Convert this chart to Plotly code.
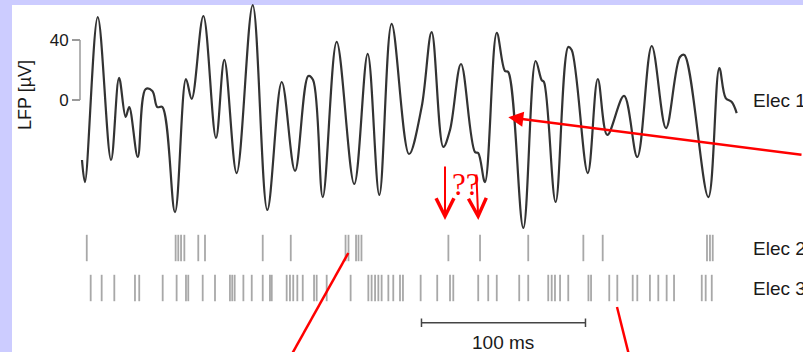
import plotly.graph_objects as go

# ---- Elec 1: local field potential, turning points of the trace ----
lfp_t = [0.0, 1.8, 9.6, 17.7, 22.6, 26.6, 28.8, 34.0, 38.8, 42.9, 45.9, 49.0,
         56.7, 63.4, 66.9, 74.0, 81.7, 86.8, 94.3, 104.1, 113.0, 121.8, 129.9,
         138.0, 140.9, 146.8, 155.3, 166.0, 174.2, 181.3, 188.8, 199.4, 207.1,
         213.2, 220.3, 224.4, 231.1, 239.6, 241.6, 245.7, 252.9, 257.9, 259.9,
         269.1, 276.6, 280.3, 281.7, 288.8, 296.5, 298.6, 308.4, 314.5, 320.3,
         330.5, 338.6, 347.4, 356.1, 364.6, 367.3, 381.9, 388.6, 392.5, 396.2,
         399.2]
lfp_uv = [-40.0, -54.7, 55.3, -40.0, 14.7, -11.3, -4.7, -38.0, 7.3, 6.0, -4.7,
          -4.7, -74.7, 14.0, 0.7, 56.0, -25.3, 26.7, -48.7, 63.3, -73.3, 12.0,
          -47.3, 16.0, 13.3, -64.7, 38.7, -56.0, 30.7, -63.3, 50.7, -36.0, -4.7,
          45.3, -31.3, -20.0, 24.0, -34.7, -35.3, -54.7, 44.7, 19.3, 18.7, -85.3,
          26.0, 13.3, 12.0, -68.0, 35.3, 33.3, -48.7, 14.0, -23.3, 2.7, -38.0,
          36.0, -18.7, 28.7, 30.0, -64.7, 21.3, 1.3, -1.3, -8.7]

# ---- spike times (ms) ----
elec2_spikes = [2.9, 57.1, 58.7, 60.4, 62.4, 70.9, 75.0, 110.2, 127.3, 160.7,
                162.5, 167.1, 168.6, 170.4, 223.4, 242.7, 272.1, 305.7, 317.5,
                381.1, 382.9, 384.6]
elec3_spikes = [5.3, 12.0, 19.7, 32.3, 34.9, 49.2, 57.7, 63.4, 64.8, 73.6, 81.1,
                90.2, 91.6, 93.1, 98.4, 103.5, 110.2, 114.6, 115.7, 124.8, 126.8,
                128.8, 131.3, 134.6, 141.5, 143.1, 149.2, 163.8, 174.6, 176.6,
                178.7, 180.7, 182.7, 186.8, 189.8, 193.9, 195.7, 206.5, 216.6,
                224.4, 226.4, 241.6, 247.7, 252.9, 266.6, 272.1, 284.3, 286.4,
                288.4, 291.5, 296.5, 308.8, 310.4, 321.5, 326.4, 335.8, 338.6,
                346.3, 351.4, 356.5, 361.0, 377.9, 380.3, 384.0]

row_labels = ["Elec 1", "Elec 2", "Elec 3"]
lfp_ticks = [0, 40]
scale_bar_ms = 100
scale_bar_start = 207.0
scale_bar_label = "100 ms"
question_text = "??"

W, H = 803, 352
FONT = "Liberation Sans, Arial, sans-serif"
TEXT = "#1a1a1a"
RED = "#ff0000"


def px(x):
    return x / W


def py(y):
    return 1 - y / H


fig = go.Figure()

# LFP trace
fig.add_trace(go.Scatter(
    x=lfp_t, y=lfp_uv, mode="lines",
    line=dict(color="#333333", width=2.2, shape="spline", smoothing=1.0),
    hoverinfo="skip", showlegend=False))


# spike rasters on a row axis
def raster(times, row, half=0.33):
    xs, ys = [], []
    for t in times:
        xs += [t, t, None]
        ys += [row - half, row + half, None]
    return xs, ys


for row, spikes in ((1, elec2_spikes), (2, elec3_spikes)):
    xs, ys = raster(spikes, row)
    fig.add_trace(go.Scatter(
        x=xs, y=ys, yaxis="y2", mode="lines",
        line=dict(color="rgba(110,110,110,0.6)", width=1.8),
        hoverinfo="skip", showlegend=False))

shapes = [
    # white panel
    dict(type="rect", xref="paper", yref="paper", x0=px(12), x1=1, y0=0,
         y1=py(5), fillcolor="white", line=dict(width=0), layer="below"),
    # LFP calibration bar
    dict(type="line", xref="paper", yref="y", x0=px(80), x1=px(80),
         y0=lfp_ticks[0], y1=lfp_ticks[1], line=dict(color="#9a9a9a", width=1.5)),
    # time scale bar with end ticks
    dict(type="line", xref="x", yref="paper", x0=scale_bar_start,
         x1=scale_bar_start + scale_bar_ms, y0=py(322.7), y1=py(322.7),
         line=dict(color="#444", width=1.5)),
    dict(type="line", xref="x", yref="paper", x0=scale_bar_start,
         x1=scale_bar_start, y0=py(318.5), y1=py(327),
         line=dict(color="#444", width=1.5)),
    dict(type="line", xref="x", yref="paper", x0=scale_bar_start + scale_bar_ms,
         x1=scale_bar_start + scale_bar_ms, y0=py(318.5), y1=py(327),
         line=dict(color="#444", width=1.5)),
    # red pointer lines
    dict(type="line", xref="paper", yref="paper", x0=px(348.3), y0=py(253),
         x1=px(292.5), y1=py(353), line=dict(color=RED, width=2.5)),
    dict(type="line", xref="paper", yref="paper", x0=px(617), y0=py(307),
         x1=px(628.5), y1=py(353), line=dict(color=RED, width=2.5)),
]

annotations = [
    dict(text="LFP [µV]", xref="paper", yref="paper", x=px(25), y=py(95),
         xanchor="center", yanchor="middle", textangle=-90, showarrow=False,
         font=dict(family=FONT, size=18, color=TEXT)),
    dict(text=row_labels[0], xref="paper", yref="y", x=px(751), y=0,
         xanchor="left", yanchor="middle", showarrow=False,
         font=dict(family=FONT, size=19, color=TEXT)),
    dict(text=row_labels[1], xref="paper", yref="y2", x=px(751), y=1,
         xanchor="left", yanchor="middle", showarrow=False,
         font=dict(family=FONT, size=19, color=TEXT)),
    dict(text=row_labels[2], xref="paper", yref="y2", x=px(751), y=2,
         xanchor="left", yanchor="middle", showarrow=False,
         font=dict(family=FONT, size=19, color=TEXT)),
    dict(text=scale_bar_label, xref="x", yref="paper",
         x=scale_bar_start + scale_bar_ms / 2, y=py(342),
         xanchor="center", yanchor="middle", showarrow=False,
         font=dict(family=FONT, size=19, color=TEXT)),
    # red arrows
    dict(text="", xref="paper", yref="paper", x=px(508.3), y=py(117.3),
         ax=294.7, ay=37.7, showarrow=True, arrowhead=2, arrowsize=1.2,
         arrowwidth=2.5, arrowcolor=RED),
    dict(text="", xref="paper", yref="paper", x=px(445), y=py(220),
         ax=0, ay=-55, showarrow=True, arrowhead=5, arrowsize=1.75,
         arrowwidth=2, arrowcolor=RED),
    dict(text="", xref="paper", yref="paper", x=px(478.3), y=py(220),
         ax=-2, ay=-47, showarrow=True, arrowhead=5, arrowsize=1.75,
         arrowwidth=2, arrowcolor=RED),
    dict(text=question_text, xref="paper", yref="paper", x=px(466), y=py(185),
         xanchor="center", yanchor="middle", showarrow=False,
         font=dict(family="Liberation Serif, Times New Roman, serif",
                   size=31, color=RED)),
]

fig.update_layout(
    width=W, height=H,
    margin=dict(l=0, r=0, t=0, b=0),
    paper_bgcolor="#ccccff",
    plot_bgcolor="rgba(0,0,0,0)",
    xaxis=dict(range=[(0 - 82) / 1.64, (W - 82) / 1.64], visible=False,
               fixedrange=True),
    yaxis=dict(range=[(100 - H) / 1.5, 100 / 1.5], anchor="free", position=px(80),
               showgrid=False, zeroline=False, showline=False,
               tickvals=lfp_ticks, ticks="outside", ticklen=8, tickwidth=1.5,
               tickcolor="#9a9a9a",
               tickfont=dict(family=FONT, size=17, color=TEXT)),
    yaxis2=dict(range=[3.6, -5.2], overlaying="y", visible=False),
    shapes=shapes,
    annotations=annotations,
    showlegend=False,
)

fig.write_html("out.html")
